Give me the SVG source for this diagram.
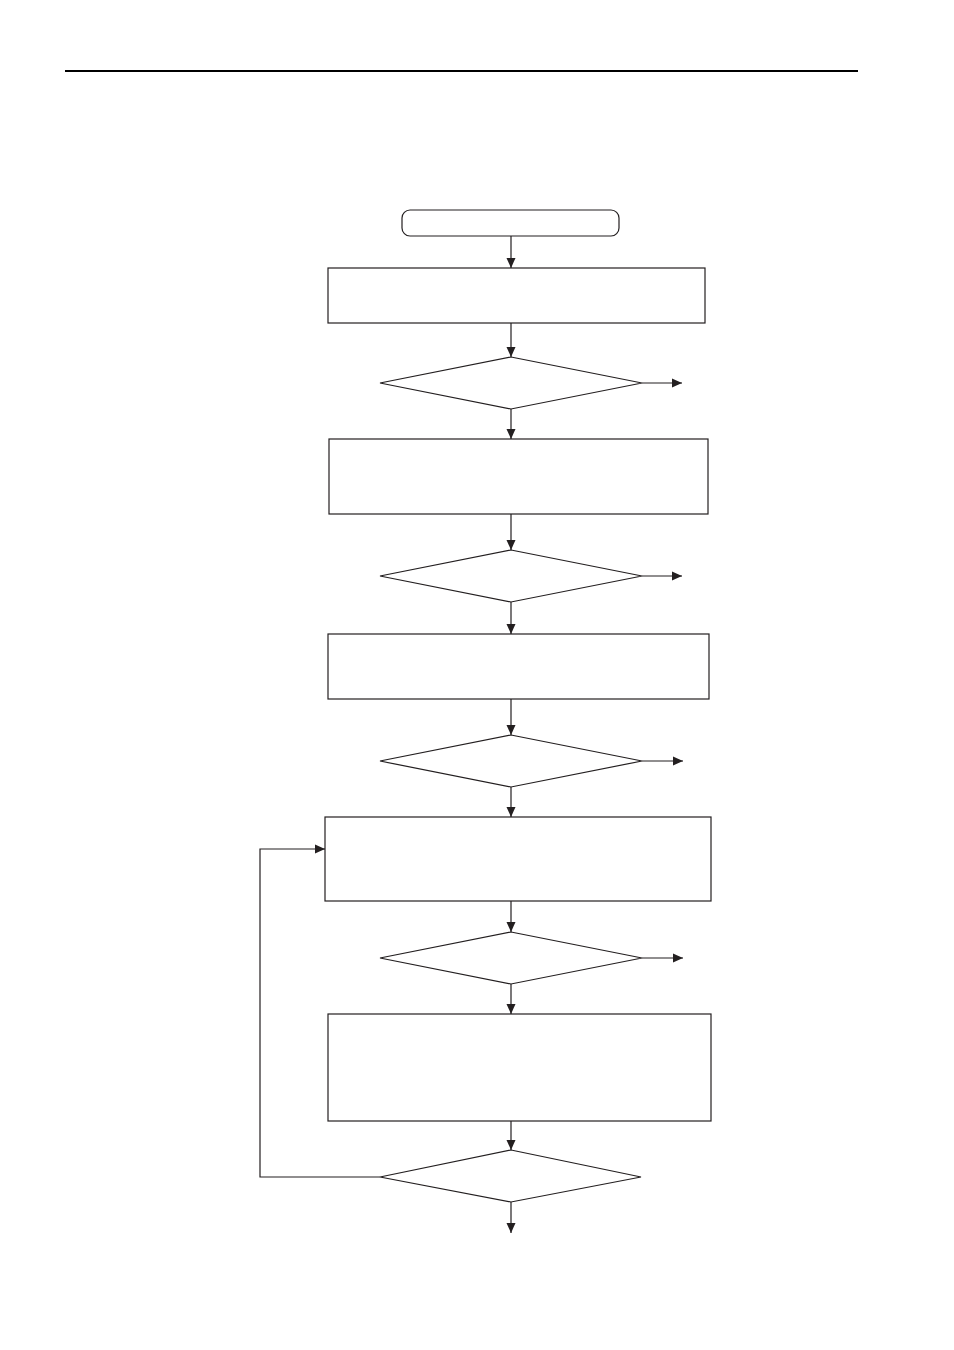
<svg xmlns="http://www.w3.org/2000/svg" width="954" height="1350" viewBox="0 0 954 1350">
<style>
.n{fill:#fff;stroke:#231f20;stroke-width:1.2}
.c{fill:none;stroke:#231f20;stroke-width:1.2}
</style>
<defs>
<marker id="ah" markerWidth="10" markerHeight="10" refX="10" refY="5" orient="auto" markerUnits="userSpaceOnUse">
<path d="M0,0.5 L10,5 L0,9.5 Z" fill="#231f20"/>
</marker>
</defs>
<rect width="954" height="1350" fill="#fff"/>
<line x1="65" y1="71" x2="858" y2="71" stroke="#000" stroke-width="2.2"/>
<g id="start"><rect class="n" x="402" y="210" width="217" height="26" rx="8"/></g>
<g id="p1"><rect class="n" x="328" y="268" width="377" height="55"/></g>
<g id="d1"><polygon class="n" points="511,357 642,383 511,409 380,383"/></g>
<g id="p2"><rect class="n" x="329" y="439" width="379" height="75"/></g>
<g id="d2"><polygon class="n" points="511,550 642,576 511,602 380,576"/></g>
<g id="p3"><rect class="n" x="328" y="634" width="381" height="65"/></g>
<g id="d3"><polygon class="n" points="511,735 642,761 511,787 380,761"/></g>
<g id="p4"><rect class="n" x="325" y="817" width="386" height="84"/></g>
<g id="d4"><polygon class="n" points="511,932 642,958 511,984 380,958"/></g>
<g id="p5"><rect class="n" x="328" y="1014" width="383" height="107"/></g>
<g id="d5"><polygon class="n" points="511,1150 641,1177 511,1202 380,1177"/></g>
<g id="connectors">
<line class="c" x1="511" y1="236" x2="511" y2="268" marker-end="url(#ah)"/>
<line class="c" x1="511" y1="323" x2="511" y2="357" marker-end="url(#ah)"/>
<line class="c" x1="642" y1="383" x2="682" y2="383" marker-end="url(#ah)"/>
<line class="c" x1="511" y1="409" x2="511" y2="439" marker-end="url(#ah)"/>
<line class="c" x1="511" y1="514" x2="511" y2="550" marker-end="url(#ah)"/>
<line class="c" x1="642" y1="576" x2="682" y2="576" marker-end="url(#ah)"/>
<line class="c" x1="511" y1="602" x2="511" y2="634" marker-end="url(#ah)"/>
<line class="c" x1="511" y1="699" x2="511" y2="735" marker-end="url(#ah)"/>
<line class="c" x1="642" y1="761" x2="683" y2="761" marker-end="url(#ah)"/>
<line class="c" x1="511" y1="787" x2="511" y2="817" marker-end="url(#ah)"/>
<line class="c" x1="511" y1="901" x2="511" y2="932" marker-end="url(#ah)"/>
<line class="c" x1="642" y1="958" x2="683" y2="958" marker-end="url(#ah)"/>
<line class="c" x1="511" y1="984" x2="511" y2="1014" marker-end="url(#ah)"/>
<line class="c" x1="511" y1="1121" x2="511" y2="1150" marker-end="url(#ah)"/>
<line class="c" x1="511" y1="1202" x2="511" y2="1233" marker-end="url(#ah)"/>
<polyline class="c" points="380,1177 260,1177 260,849 325,849" marker-end="url(#ah)"/>
</g>
</svg>
